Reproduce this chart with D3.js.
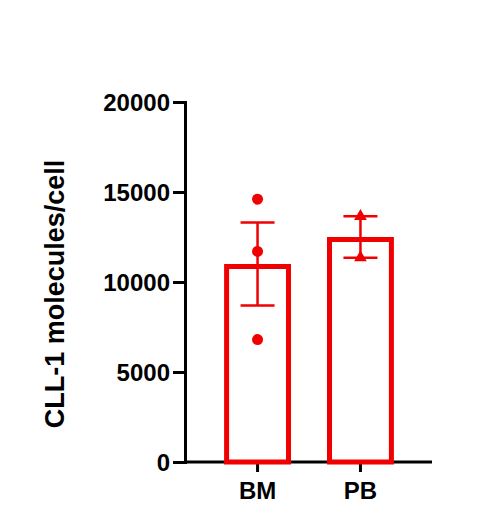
<!DOCTYPE html>
<html><head><meta charset="utf-8">
<script src="https://cdn.jsdelivr.net/npm/d3@7"></script>
<style>body{margin:0;background:#fff}</style></head>
<body><svg id="c" width="493" height="532"></svg>
<script>
const categories = ["BM","PB"];
const means = [11000, 12500];
const sem = [2300, 1150];
const pointsBM = [14600, 11700, 6800];
const pointsPB = [13650, 11350];
const yTicks = [0,5000,10000,15000,20000];
const red = "#f00000";
const svg = d3.select("#c");
const y = d3.scaleLinear().domain([0,20000]).range([462,102]);
const x = d3.scaleBand().domain(categories).range([185,433]).paddingInner(0.35).paddingOuter(0.38);
const ya = svg.append("g").attr("transform","translate(185,0)")
  .call(d3.axisLeft(y).tickValues(yTicks).tickSize(12).tickPadding(3).tickFormat(d3.format("d")));
const xa = svg.append("g").attr("transform","translate(0,462)")
  .call(d3.axisBottom(x).tickSize(10).tickPadding(10));
[ya,xa].forEach(a=>{a.selectAll("path,line").attr("stroke","#000").attr("stroke-width",3);
 a.selectAll("text").attr("font-family","Liberation Sans, Arial").attr("font-weight","bold").attr("font-size",24).attr("fill","#000");});
ya.selectAll("text").attr("dy","0.35em");
xa.select("path").attr("d","M185,0H432");
svg.append("text").attr("transform","translate(64,294) rotate(-90)").attr("text-anchor","middle")
 .attr("font-family","Liberation Sans, Arial").attr("font-weight","bold").attr("font-size",27).text("CLL-1 molecules/cell");
const sw=5;
categories.forEach((c,i)=>{
  const x0=x(c), w=x.bandwidth(), cx=x0+w/2;
  svg.append("rect").attr("x",x0+sw/2).attr("y",y(means[i])+sw/2).attr("width",w-sw).attr("height",y(0)-y(means[i])-sw/2)
    .attr("fill","none").attr("stroke",red).attr("stroke-width",sw);
  const hi=y(means[i]+sem[i]), lo=y(means[i]-sem[i]);
  svg.append("line").attr("x1",cx).attr("x2",cx).attr("y1",hi).attr("y2",lo).attr("stroke",red).attr("stroke-width",2.5);
  [hi,lo].forEach(v=>svg.append("line").attr("x1",cx-17).attr("x2",cx+17).attr("y1",v).attr("y2",v).attr("stroke",red).attr("stroke-width",2.5));
});
const cb=x("BM")+x.bandwidth()/2, cp=x("PB")+x.bandwidth()/2;
pointsBM.forEach(v=>svg.append("circle").attr("cx",cb).attr("cy",y(v)).attr("r",5.5).attr("fill",red));
pointsPB.forEach(v=>svg.append("path").attr("transform",`translate(${cp},${y(v)})`).attr("d",d3.symbol(d3.symbolTriangle,70)()).attr("fill",red));
</script></body></html>
